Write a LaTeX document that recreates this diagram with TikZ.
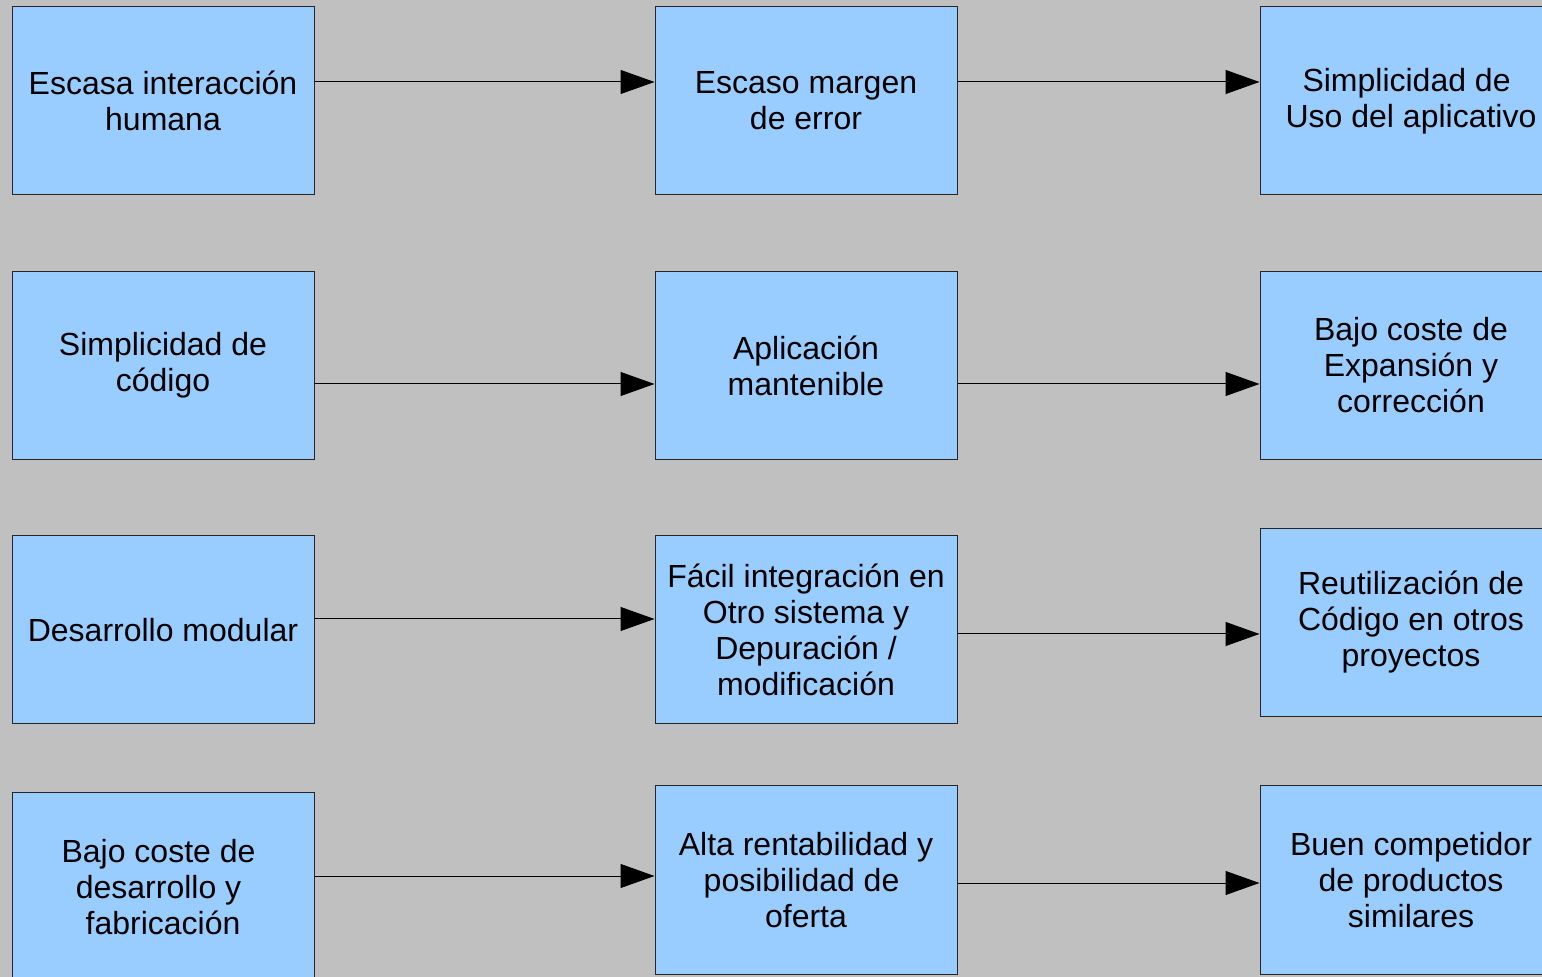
\documentclass[tikz,border=0pt]{standalone}
\usepackage{fontspec}
\setmainfont{Liberation Sans}
\usetikzlibrary{arrows.meta,positioning}
\definecolor{boxblue}{HTML}{99CCFF}
\definecolor{bggray}{HTML}{C0C0C0}
\newcommand{\tsp}{\hbox to 0.278em{}}

\begin{document}
\begin{tikzpicture}
  [x=0.5pt,y=-0.5pt,
   box/.style={draw=black!85,fill=boxblue,line width=0.5pt,
     minimum width=151pt,minimum height=94pt,inner sep=0pt,
     align=center,font=\fontsize{16}{18}\selectfont},
   arr/.style={-{Triangle[length=17pt,width=12pt]},line width=0.5pt}]

  \path[use as bounding box,fill=bggray] (0,0) rectangle (1542,977);
  \clip (0,0) rectangle (1542,977);

  % row 1
  \node[box] (a1) at (163,101)  {Escasa interacción\\humana};
  \node[box] (b1) at (806,101)  {Escaso margen\\de error};
  \node[box] (c1) at (1411,101) {Simplicidad de\tsp\\Uso del aplicativo};

  % row 2
  \node[box] (a2) at (163,365.5)  {Simplicidad de\\código};
  \node[box] (b2) at (806,365.5)  {Aplicación\\mantenible};
  \node[box] (c2) at (1411,365.5) {Bajo coste de\\Expansión y\\corrección};

  % row 3
  \node[box] (a3) at (163,630)    {Desarrollo modular};
  \node[box] (b3) at (806,630)    {Fácil integración en\\Otro sistema y\\Depuración /\\modificación};
  \node[box] (c3) at (1411,622.5) {Reutilización de\\Código en otros\\proyectos};

  % row 4
  \node[box] (a4) at (163,887)  {Bajo coste de\tsp\\desarrollo y\tsp\\fabricación};
  \node[box] (b4) at (806,880)  {Alta rentabilidad y\\posibilidad de\tsp\\oferta};
  \node[box] (c4) at (1411,880) {Buen competidor\\de productos\\similares};

  \draw[arr] ([yshift=9.5pt]a1.east) -- ([yshift=9.5pt]b1.west);
  \draw[arr] ([yshift=9.5pt]b1.east) -- ([yshift=9.5pt]c1.west);
  \draw[arr] ([yshift=-9.25pt]a2.east) -- ([yshift=-9.25pt]b2.west);
  \draw[arr] ([yshift=-9.25pt]b2.east) -- ([yshift=-9.25pt]c2.west);
  \draw[arr] ([yshift=5.5pt]a3.east) -- ([yshift=5.5pt]b3.west);
  \draw[arr] ([yshift=-2pt]b3.east) -- ([yshift=-5.75pt]c3.west);
  \draw[arr] ([yshift=5.5pt]a4.east) -- ([yshift=2pt]b4.west);
  \draw[arr] ([yshift=-1.5pt]b4.east) -- ([yshift=-1.5pt]c4.west);
\end{tikzpicture}
\end{document}
